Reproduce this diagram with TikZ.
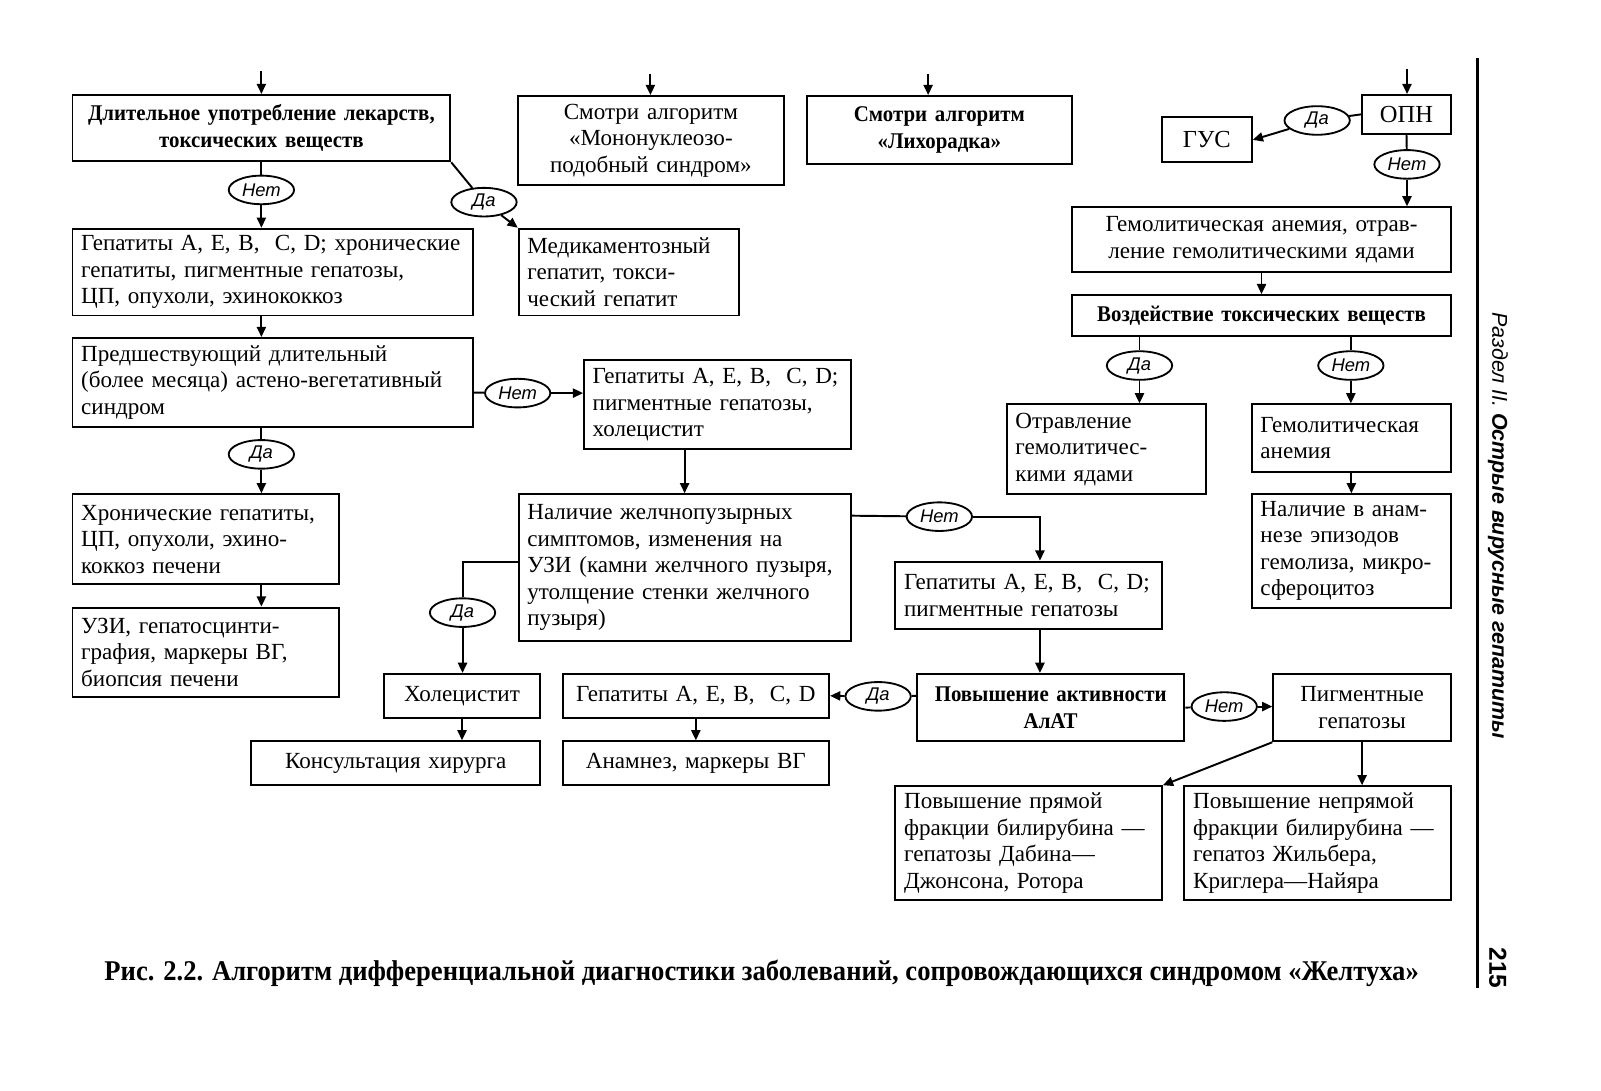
\documentclass[tikz,border=0pt]{standalone}
\usepackage{fontspec}
\setmainfont{Liberation Serif}
\newfontfamily\condfont{Liberation Serif}[FakeStretch=0.93]
\newfontfamily\labfont{Liberation Sans}
\usetikzlibrary{arrows.meta,shapes.geometric}
\newcommand\bx[7]{%
  \pgfmathsetmacro\bxw{#4-(#2)}%
  \pgfmathsetmacro\bxh{#5-(#3)}%
  \pgfmathsetmacro\bxt{#4-(#2)-17}%
  \node[box, minimum width=\bxw pt, minimum height=\bxh pt, text width=\bxt pt, align=#6] (#1) at ({(#2+#4)/2},{(#3+#5)/2}) {#7};}
\begin{document}
\begin{tikzpicture}[x=1pt,y=-1pt,
  box/.style={draw, line width=1.9pt, inner xsep=8.5pt, inner ysep=0pt, font=\fontsize{22.6}{26}\selectfont},
  bold/.style={font=\condfont\bfseries\fontsize{22}{26}\selectfont},
  lab/.style={draw, ellipse, fill=white, line width=1.8pt, minimum width=64pt, minimum height=28pt, inner sep=0pt, font=\labfont\itshape\fontsize{18}{20}\selectfont},
  con/.style={line width=1.9pt},
  arr/.style={con, -{Triangle[length=10pt,width=9pt]}}]
\useasboundingbox (0,0) rectangle (1568,1068);
\fill[white] (0,0) rectangle (1568,1068);
% boxes
\bx{A}{71}{93}{441}{158}{center}{\condfont\bfseries\fontsize{22}{26}\selectfont Длительное употребление лекарств,\\ токсических веществ}
\bx{B}{507}{94}{768}{181}{center}{Смотри алгоритм\\ «Мононуклеозо-\\ подобный синдром»}
\bx{C}{790}{94}{1050}{161}{center}{\condfont\bfseries\fontsize{22}{26}\selectfont Смотри алгоритм\\ «Лихорадка»}
\bx{opn}{1334}{93}{1421}{131}{center}{\fontsize{24}{28}\selectfont ОПН}
\bx{gus}{1138}{115}{1226}{159}{center}{\fontsize{24}{28}\selectfont ГУС}
\bx{ha}{1050}{203}{1421}{266}{center}{Гемолитическая анемия, отрав-\\ ление гемолитическими ядами}
\bx{vt}{1050}{289}{1421}{329}{center}{\condfont\bfseries\fontsize{22}{26}\selectfont Воздействие токсических веществ}
\bx{otr}{986}{396}{1181}{484}{left}{Отравление\\ гемолитичес-\\ кими ядами}
\bx{gem}{1226}{396}{1421}{462}{left}{Гемолитическая\\ анемия}
\bx{nal}{1226}{484}{1421}{595}{left}{Наличие в анам-\\ незе эпизодов\\ гемолиза, микро-\\ сфероцитоз}
\bx{D}{71}{224}{463}{309}{left}{Гепатиты A, E, B,\ \ C, D; хронические\\ гепатиты, пигментные гепатозы,\\ ЦП, опухоли, эхинококкоз}
\bx{E}{508}{224}{724}{309}{left}{Медикаментозный\\ гепатит, токси-\\ ческий гепатит}
\bx{F}{71}{331}{463}{418}{left}{Предшествующий длительный\\ (более месяца) астено-вегетативный\\ синдром}
\bx{G}{572}{353}{833}{440}{left}{Гепатиты A, E, B,\ \ C, D;\\ пигментные гепатозы,\\ холецистит}
\bx{H}{71}{484}{332}{572}{left}{Хронические гепатиты,\\ ЦП, опухоли, эхино-\\ коккоз печени}
\bx{I}{71}{595}{332}{683}{left}{УЗИ, гепатосцинти-\\ графия, маркеры ВГ,\\ биопсия печени}
\bx{J}{508}{484}{833}{628}{left}{Наличие желчнопузырных\\ симптомов, изменения на\\ УЗИ (камни желчного пузыря,\\ утолщение стенки желчного\\ пузыря)}
\bx{K}{376}{660}{529}{703}{center}{Холецистит}
\bx{L}{246}{726}{529}{769}{center}{Консультация хирурга}
\bx{M}{877}{550}{1138}{616}{left}{Гепатиты A, E, B,\ \ C, D;\\ пигментные гепатозы}
\bx{N}{898}{660}{1160}{726}{center}{\condfont\bfseries\fontsize{22}{26}\selectfont Повышение активности\\ АлАТ}
\bx{O}{551}{660}{812}{703}{center}{Гепатиты A, E, B,\ \ C, D}
\bx{P}{551}{726}{812}{769}{center}{Анамнез, маркеры ВГ}
\bx{Q}{1247}{660}{1421}{726}{center}{Пигментные\\ гепатозы}
\bx{R}{877}{770}{1138}{881}{left}{Повышение прямой\\ фракции билирубина —\\ гепатозы Дабина—\\ Джонсона, Ротора}
\bx{S}{1160}{770}{1421}{881}{left}{Повышение непрямой\\ фракции билирубина —\\ гепатоз Жильбера,\\ Криглера—Найяра}
% labels
\node[lab] (l1) at (256,186) {Нет};
\node[lab] (l2) at (474,198) {Да};
\node[lab] (l3) at (1290,118) {Да};
\node[lab] (l4) at (1378,161) {Нет};
\node[lab] (l5) at (1116,358) {Да};
\node[lab] (l6) at (1323,358) {Нет};
\node[lab] (l7) at (507,385) {Нет};
\node[lab] (l8) at (256,445) {Да};
\node[lab] (l9) at (453,600) {Да};
\node[lab] (l10) at (920,506) {Нет};
\node[lab] (l11) at (860,682) {Да};
\node[lab] (l12) at (1199,692) {Нет};
% entries
\coordinate (inA) at (256,70);
\coordinate (inB) at (637,72);
\coordinate (inC) at (909,72);
\coordinate (inO) at (1378,68);
\draw[arr] (inA) -- (inA |- A.north);
\draw[arr] (inB) -- (inB |- B.north);
\draw[arr] (inC) -- (inC |- C.north);
\draw[arr] (inO) -- (inO |- opn.north);
% left part
\draw[con] (A.south) -- (l1);
\draw[arr] (l1) -- (l1 |- D.north);
\draw[con] (A.south east) -- (l2);
\draw[arr] (l2) -- (E.north west);
\draw[arr] (A.south |- D.south) -- (A.south |- F.north);
\draw[con] ([yshift=-10pt]F.east) -- (l7);
\draw[arr] (l7) -- (l7 -| G.west);
\draw[con] (A.south |- F.south) -- (l8);
\draw[arr] (l8) -- (l8 |- H.north);
\draw[arr] (A.south |- H.south) -- (A.south |- I.north);
\draw[arr] (J.north |- G.south) -- (J.north);
\draw[con] ([yshift=6pt]J.west) -| (l9);
\draw[arr] (l9) -- (l9 |- K.north);
\draw[arr] (K.south) -- (K.south |- L.north);
\draw[con] ([yshift=-22pt]J.north east) -- (l10);
\draw[arr] (l10) -| ([xshift=11pt]M.north);
\draw[arr] ([xshift=11pt]M.south) -- ([xshift=11pt]M.south |- N.north);
\draw[con] (N.west |- O.east) -- (l11);
\draw[arr] (l11) -- (O.east);
\draw[arr] (O.south) -- (P.north);
\draw[con] (N.east) -- (l12);
\draw[arr] (l12) -- (l12 -| Q.west);
\draw[arr] (Q.south west) -- (R.north east);
\draw[arr] (Q.south) -- (Q.south |- S.north);
% right part
\draw[con] (opn.west) -- (l3);
\draw[arr] (l3) -- (gus.east);
\draw[con] (opn.south) -- (l4);
\draw[arr] (l4) -- (l4 |- ha.north);
\draw[arr] (ha.south) -- (vt.north);
\draw[con] ([xshift=-119.5pt]vt.south) -- (l5);
\draw[arr] (l5) -- (l5 |- otr.north);
\draw[con] ([xshift=87.5pt]vt.south) -- (l6);
\draw[arr] (l6) -- (l6 |- gem.north);
\draw[arr] (gem.south) -- (nal.north);
% page furniture
\draw[line width=3pt] (1447,57) -- (1447,968);
\node[rotate=-90, font=\labfont\fontsize{21}{24}\selectfont] (side) at (1467,515) {\itshape Раздел II. \bfseries Острые вирусные гепатиты};
\node[rotate=-90, font=\labfont\bfseries\fontsize{24}{26}\selectfont] (pg) at (1467,948) {215};
\node[font=\condfont\bfseries\fontsize{28}{32}\selectfont] (cap) at (746,953) {Рис. 2.2. Алгоритм дифференциальной диагностики заболеваний, сопровождающихся синдромом «Желтуха»};
\end{tikzpicture}
\end{document}
